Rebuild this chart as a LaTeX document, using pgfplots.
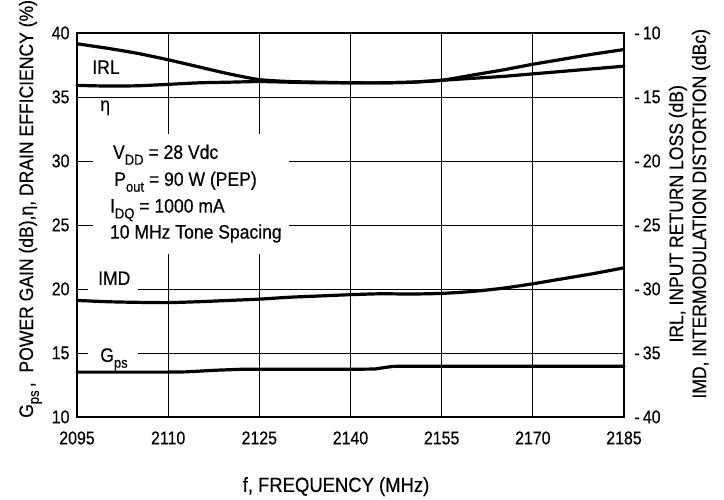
\documentclass[border=0pt]{standalone}
\usepackage{fontspec}
\setmainfont{Liberation Sans}[FakeStretch=0.9, FakeBold=0.3]
\newfontfamily\tickfamily{Liberation Sans}[FakeStretch=0.86, FakeBold=0.3]
\usepackage{pgfplots}
\usepackage{pgfplotstable}
\pgfplotsset{compat=1.18}

\newcommand{\fs}{\fontsize{19.5bp}{23bp}\selectfont}
\newcommand{\fl}{\fontsize{20.5bp}{25bp}\selectfont}
\newcommand{\ft}{\tickfamily\fontsize{18.5bp}{22bp}\selectfont}
\newcommand{\sub}[1]{\raisebox{-0.3em}{\fontsize{14.5bp}{15bp}\selectfont #1}}

% left axis: G_ps (dB), eta (%)
\pgfplotstableread{
f     eta
2095  35.90
2100  35.85
2105  35.87
2110  35.98
2115  36.10
2120  36.15
2125  36.20
2130  36.15
2135  36.10
2140  36.10
2145  36.10
2150  36.15
2155  36.30
2160  36.45
2165  36.60
2170  36.80
2175  37.00
2180  37.20
2185  37.40
}\etatab

\pgfplotstableread{
f       gps
2095    13.50
2110    13.50
2113    13.52
2118    13.65
2122    13.72
2140    13.72
2144    13.74
2145.5  13.85
2147    13.95
2185    13.96
}\gpstab

% right axis: IRL (dB), IMD (dBc)
\pgfplotstableread{
f     irl
2095  -10.85
2100  -11.20
2105  -11.60
2110  -12.10
2115  -12.65
2120  -13.20
2125  -13.65
2130  -13.80
2135  -13.85
2140  -13.90
2145  -13.90
2150  -13.85
2155  -13.70
2160  -13.30
2165  -12.90
2170  -12.45
2175  -12.05
2180  -11.65
2185  -11.30
}\irltab

\pgfplotstableread{
f     imd
2095  -30.90
2100  -31.00
2105  -31.05
2110  -31.07
2115  -31.00
2120  -30.90
2125  -30.80
2130  -30.65
2135  -30.55
2140  -30.45
2145  -30.38
2150  -30.40
2155  -30.35
2160  -30.20
2165  -29.95
2170  -29.60
2175  -29.20
2180  -28.80
2185  -28.35
}\imdtab

\begin{document}
\begin{tikzpicture}
\path (-77bp,-82bp) rectangle (647bp,415bp);
\begin{axis}[
    at={(0,0)}, anchor=south west,
    scale only axis, width=547bp, height=384bp,
    xmin=2095, xmax=2185, ymin=10, ymax=40,
    xtick={2095,2110,...,2185},
    xticklabels={2095,2110,2125,2140,2155,2170,2185},
    ytick={10,15,...,40},
    yticklabels={10,15,20,25,30,35,40},
    grid=major,
    major grid style={black, line width=0.8bp},
    major tick length=0pt,
    axis line style={line width=1.8bp},
    tick label style={font=\ft},
    xticklabel style={yshift=-11bp},
    yticklabel style={xshift=-4bp},
    clip=false,
]
% white patches behind the labels
\fill[white] (axis cs:2097.6,22.75) rectangle (axis cs:2129.9,32.1);
\fill[white] (axis cs:2096.8,19.8) rectangle (axis cs:2105.0,21.6);
\fill[white] (axis cs:2096.8,14.5) rectangle (axis cs:2105.0,15.6);

\addplot[black, line width=3.2bp, line cap=round, smooth, tension=0.4] table[x=f, y=eta] {\etatab};
\addplot[black, line width=3.2bp, line cap=round] table[x=f, y=gps] {\gpstab};

\node[font=\fs, anchor=base west, inner sep=0pt] at (axis cs:2097.5,36.8) {IRL};
\node[font=\fs, anchor=base west, inner sep=0pt] at (axis cs:2098.8,33.9) {η};
\node[font=\fs, anchor=base west, inner sep=0pt] at (axis cs:2098.45,20.31) {IMD};
\node[font=\fs, anchor=base west, inner sep=0pt] at (axis cs:2098.8,14.3) {G\sub{ps}};

\node[font=\fs, anchor=base west, inner sep=0pt] at (axis cs:2100.9,30.16) {V\sub{DD} = 28 Vdc};
\node[font=\fs, anchor=base west, inner sep=0pt] at (axis cs:2101.1,28.05) {P\sub{out} = 90 W (PEP)};
\node[font=\fs, anchor=base west, inner sep=0pt] at (axis cs:2100.4,25.96) {I\sub{DQ} = 1000 mA};
\node[font=\fs, anchor=base west, inner sep=0pt] at (axis cs:2100.4,23.93) {10 MHz Tone Spacing};

% axis titles
\node[font=\fl, anchor=base] at (rel axis cs:0.4735,-0.1953) {f, FREQUENCY (MHz)};
\node[font=\fs, rotate=90, anchor=base, inner sep=0pt] at (rel axis cs:-0.0804,0.5417)
  {G\sub{ps}\,,\ \ POWER GAIN (dB),η, DRAIN EFFICIENCY (\%)};
\node[font=\fs, rotate=90, align=center, inner sep=0pt] at (rel axis cs:1.1197,0.529)
  {IRL, INPUT RETURN LOSS (dB)\\IMD, INTERMODULATION DISTORTION (dBc)};
\end{axis}

\begin{axis}[
    at={(0,0)}, anchor=south west,
    scale only axis, width=547bp, height=384bp,
    xmin=2095, xmax=2185, ymin=-40, ymax=-10,
    axis x line=none, axis y line*=right,
    y axis line style={draw=none},
    ytick={-40,-35,...,-10},
    yticklabels={-\,40,-\,35,-\,30,-\,25,-\,20,-\,15,-\,10},
    major tick length=0pt,
    tick label style={font=\ft},
    yticklabel style={xshift=7bp},
]
\addplot[black, line width=3.2bp, line cap=round, smooth, tension=0.4] table[x=f, y=irl] {\irltab};
\addplot[black, line width=3.2bp, line cap=round, smooth, tension=0.4] table[x=f, y=imd] {\imdtab};
\end{axis}
\end{tikzpicture}
\end{document}
